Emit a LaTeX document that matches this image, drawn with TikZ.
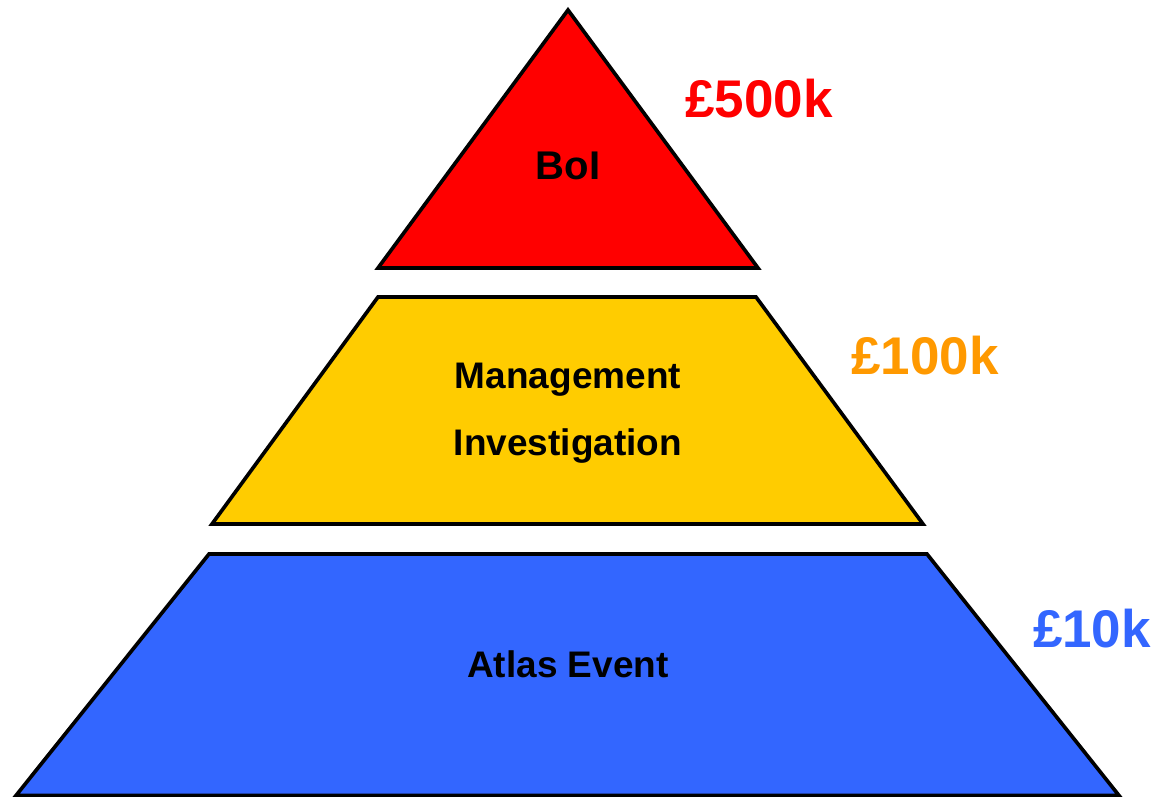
\documentclass[tikz,border=0pt]{standalone}
\usepackage{fontspec}
\setmainfont{Liberation Sans}
\usetikzlibrary{calc}

\definecolor{tierred}{HTML}{FF0000}
\definecolor{tieryellow}{HTML}{FFCC00}
\definecolor{tierblue}{HTML}{3366FF}
\definecolor{costorange}{HTML}{FF9900}

\begin{document}
\begin{tikzpicture}[x=0.025cm, y=-0.025cm, line width=2.6pt, line join=miter,
    tier/.style={font=\fontsize{26.3}{30}\selectfont\bfseries},
    cost/.style={font=\fontsize{37.7}{42}\selectfont\bfseries}]
    \useasboundingbox (0,0) rectangle (1160,797);
    % levels
    \filldraw[fill=tierred] (568,10) -- (758,268) -- (378,268) -- cycle;
    \filldraw[fill=tieryellow] (378,297) -- (756,297) -- (923,524) -- (212,524) -- cycle;
    \filldraw[fill=tierblue] (209,554) -- (927,554) -- (1119,795.5) -- (16,795.5) -- cycle;
    % labels
    \node[tier, font=\fontsize{28.5}{30}\selectfont\bfseries] (boi) at (568,166) {BoI};
    \node[tier] (mgmt) at (568,380) {Management};
    \node[tier] (inv) at (568,446) {Investigation};
    \node[tier] (atlas) at (568,664) {Atlas Event};
    % costs
    \node[cost, text=tierred] (c500) at (759,99) {£500k};
    \node[cost, text=costorange] (c100) at (925,356) {£100k};
    \node[cost, text=tierblue] (c10) at (1092,629) {£10k};
\end{tikzpicture}
\end{document}
